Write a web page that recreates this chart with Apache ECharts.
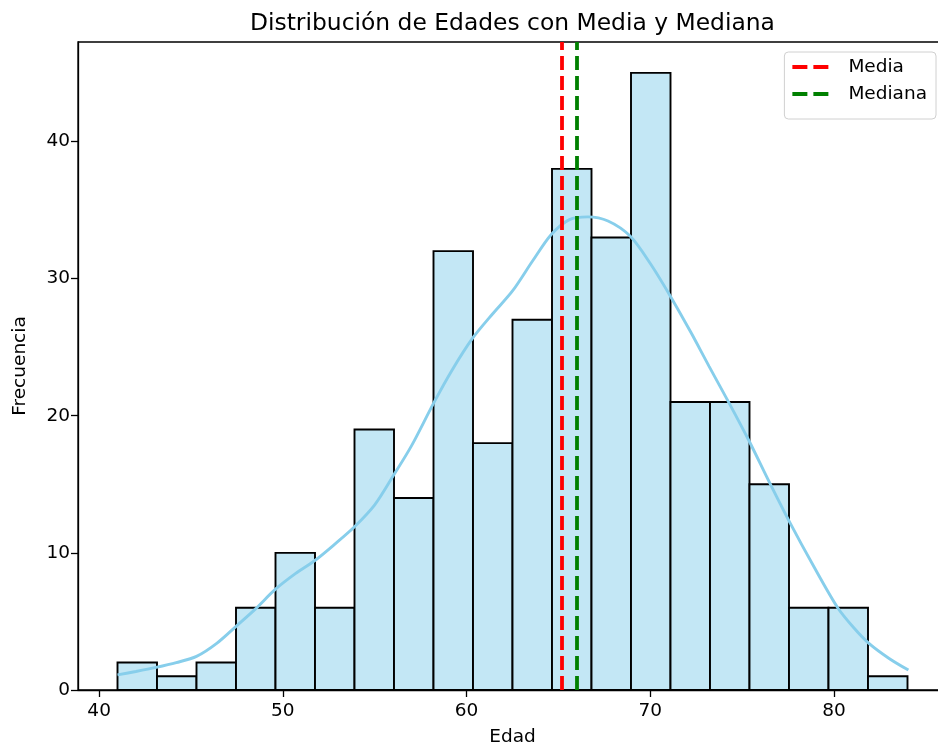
<!DOCTYPE html>
<html>
<head>
<meta charset="utf-8">
<title>Distribución de Edades</title>
<script src="https://cdn.jsdelivr.net/npm/echarts@6/dist/echarts.min.js"></script>
<style>
  html, body { margin: 0; padding: 0; background: #fff; }
  #chart { width: 938px; height: 749px; }
</style>
</head>
<body>
<div id="chart"></div>
<script>
// Histogram of ages: 20 equal-width bins between the youngest and oldest age
const binLow = 41;
const binHigh = 84;
const binCounts = [2, 1, 2, 6, 10, 6, 19, 14, 32, 18, 27, 38, 33, 45, 21, 21, 15, 6, 6, 1];

// Kernel density estimate, expressed in counts per bin
const kdeAges = [41.0, 42.0, 43.1, 44.2, 45.3, 46.4, 47.5, 48.5, 49.6, 50.7, 51.8, 52.8, 53.9, 55.0,
  56.0, 57.0, 58.2, 59.2, 60.3, 61.4, 62.5, 63.6, 64.6, 65.6, 66.6, 67.7, 68.9, 70.0, 71.1,
  72.2, 73.2, 74.3, 75.4, 76.5, 77.6, 78.9, 80.2, 81.1, 81.9, 83.0, 84.05];
const kdeCounts = [1.1, 1.35, 1.65, 2.0, 2.45, 3.4, 4.7, 5.9, 7.35, 8.5, 9.5, 10.6, 11.9, 13.5,
  15.6, 17.8, 20.9, 23.3, 25.6, 27.4, 29.1, 31.3, 33.2, 34.3, 34.5, 34.2, 33.1, 31.1, 28.7,
  26.1, 23.6, 20.9, 18.1, 15.1, 12.2, 9.0, 6.0, 4.5, 3.4, 2.3, 1.45];

// Summary statistics
const meanAge = 65.2;
const medianAge = 66.0;

// Axis ticks
const xTicks = [40, 50, 60, 70, 80];
const yTicks = [0, 10, 20, 30, 40];

const FONT = 'DejaVu Sans';
const binWidth = (binHigh - binLow) / binCounts.length;
const histData = binCounts.map((c, i) => [binLow + i * binWidth, binLow + (i + 1) * binWidth, c]);
const kdeData = kdeAges.map((a, i) => [a, kdeCounts[i]]);
const xPad = (binHigh - binLow) * 0.05;
const yMax = Math.max(...binCounts) * 1.05;

const chart = echarts.init(document.getElementById('chart'), null, { renderer: 'canvas' });

// Legend handle: two short dashes
const dashIcon = 'path://M0,0H15V4H0Z M21,0H36V4H21Z';

chart.setOption({
  animation: false,
  backgroundColor: '#ffffff',
  title: {
    text: 'Distribución de Edades con Media y Mediana',
    left: 245,
    top: 7,
    textStyle: { fontFamily: FONT, fontSize: 23.4, fontWeight: 'normal', color: '#000' }
  },
  legend: {
    orient: 'vertical',
    right: 2,
    top: 52,
    padding: [5, 9, 15, 8],
    itemGap: 7,
    itemWidth: 36,
    itemHeight: 4,
    backgroundColor: '#ffffff',
    borderColor: '#d0d0d0',
    borderWidth: 1,
    borderRadius: 4,
    textStyle: { fontFamily: FONT, fontSize: 18.5, color: '#000', padding: [0, 0, 0, 15], lineHeight: 20 },
    data: [
      { name: 'Media', icon: dashIcon, itemStyle: { color: '#ff0000' } },
      { name: 'Mediana', icon: dashIcon, itemStyle: { color: '#008000' } }
    ]
  },
  grid: {
    left: 78,
    top: 42,
    width: 869,
    height: 648,
    outerBoundsMode: 'none',
    show: true,
    borderColor: '#000',
    borderWidth: 1.3,
    backgroundColor: 'transparent'
  },
  xAxis: {
    type: 'value',
    min: binLow - xPad,
    max: binHigh + xPad,
    name: 'Edad',
    nameLocation: 'middle',
    nameGap: 38,
    nameTextStyle: { fontFamily: FONT, fontSize: 18.5, color: '#000' },
    axisLine: { show: true, onZero: false, lineStyle: { color: '#000', width: 1.3 } },
    axisTick: { show: true, length: 7, lineStyle: { color: '#000', width: 1.3 }, customValues: xTicks },
    axisLabel: { fontFamily: FONT, fontSize: 18.5, color: '#000', margin: 12, customValues: xTicks },
    splitLine: { show: false }
  },
  yAxis: {
    type: 'value',
    min: 0,
    max: yMax,
    name: 'Frecuencia',
    nameLocation: 'middle',
    nameGap: 48,
    nameRotate: 90,
    nameTextStyle: { fontFamily: FONT, fontSize: 18.5, color: '#000' },
    axisLine: { show: true, lineStyle: { color: '#000', width: 1.3 } },
    axisTick: { show: true, length: 7, lineStyle: { color: '#000', width: 1.3 }, customValues: yTicks },
    axisLabel: { fontFamily: FONT, fontSize: 18.5, color: '#000', margin: 8, customValues: yTicks },
    splitLine: { show: false }
  },
  series: [
    {
      name: 'Histograma',
      type: 'custom',
      data: histData,
      encode: { x: [0, 1], y: 2 },
      z: 2,
      renderItem: function (params, api) {
        const topLeft = api.coord([api.value(0), api.value(2)]);
        const bottomRight = api.coord([api.value(1), 0]);
        return {
          type: 'rect',
          shape: {
            x: topLeft[0],
            y: topLeft[1],
            width: bottomRight[0] - topLeft[0],
            height: bottomRight[1] - topLeft[1]
          },
          style: { fill: 'rgb(195,231,245)', stroke: '#000', lineWidth: 1.9 }
        };
      }
    },
    {
      name: 'KDE',
      type: 'line',
      data: kdeData,
      smooth: 0.3,
      symbol: 'none',
      z: 3,
      lineStyle: { color: '#87ceeb', width: 2.9 }
    },
    {
      name: 'Media',
      type: 'line',
      data: [],
      z: 4,
      itemStyle: { color: '#ff0000' },
      lineStyle: { color: '#ff0000' },
      markLine: {
        silent: true,
        symbol: 'none',
        label: { show: false },
        lineStyle: { color: '#ff0000', width: 3.8, type: [14, 6] },
        data: [{ xAxis: meanAge }]
      }
    },
    {
      name: 'Mediana',
      type: 'line',
      data: [],
      z: 4,
      itemStyle: { color: '#008000' },
      lineStyle: { color: '#008000' },
      markLine: {
        silent: true,
        symbol: 'none',
        label: { show: false },
        lineStyle: { color: '#008000', width: 3.8, type: [14, 6] },
        data: [{ xAxis: medianAge }]
      }
    }
  ]
});
</script>
</body>
</html>
